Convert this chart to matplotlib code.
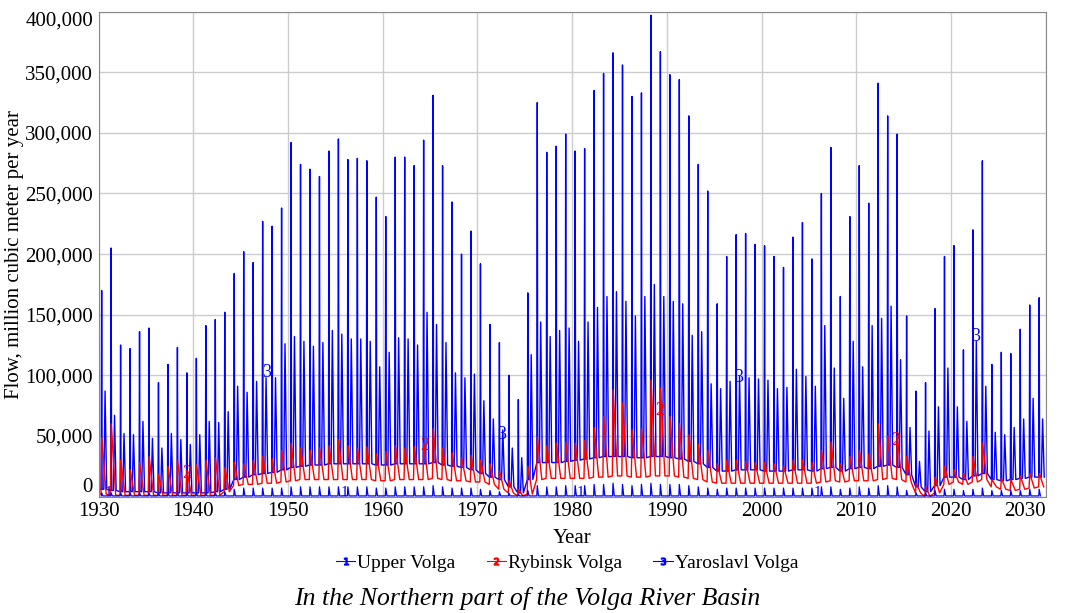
import numpy as np
import matplotlib.pyplot as plt
from matplotlib.lines import Line2D

plt.rcParams['font.family'] = ['Liberation Serif', 'DejaVu Serif']

# Annual readings (thousand million cubic meter per year)
years = np.arange(1930, 2030)

# Yaroslavl Volga: spring spike, second (autumn) peak, low-water level
yar_spike = [170, 205, 125, 122, 136, 139, 94, 109, 123, 102,
             114, 141, 146, 152, 184, 202, 193, 227, 223, 238,
             292, 274, 270, 264, 285, 295, 278, 279, 277, 247,
             231, 280, 280, 273, 294, 331, 273, 243, 200, 219,
             192, 142, 127, 100, 80, 168, 325, 284, 289, 299,
             285, 287, 335, 349, 366, 356, 330, 333, 397, 367,
             348, 344, 314, 274, 252, 159, 198, 216, 217, 208,
             207, 198, 189, 214, 226, 196, 250, 288, 165, 231,
             273, 242, 341, 314, 299, 149, 87, 94, 155, 198,
             207, 121, 220, 277, 109, 119, 118, 138, 158, 164]
yar_second = [87, 67, 52, 51, 62, 48, 40, 52, 47, 43,
              51, 62, 61, 70, 91, 86, 95, 98, 98, 126,
              132, 128, 124, 127, 137, 134, 130, 130, 128, 107,
              119, 131, 130, 125, 152, 142, 127, 102, 98, 101,
              79, 64, 55, 40, 32, 117, 144, 132, 137, 139,
              128, 144, 156, 165, 169, 161, 149, 165, 175, 165,
              161, 159, 133, 136, 93, 89, 95, 99, 98, 97,
              96, 89, 90, 105, 99, 91, 141, 106, 81, 128,
              107, 141, 147, 157, 113, 57, 29, 54, 74, 106,
              74, 62, 128, 91, 53, 51, 57, 64, 81, 64]
yar_low = [6, 5, 4, 4, 4, 4, 3, 3, 3, 3,
           3, 3, 4, 6, 14, 16, 18, 19, 20, 22,
           24, 25, 26, 26, 27, 27, 27, 27, 27, 26,
           26, 27, 27, 27, 27, 28, 26, 25, 24, 22,
           19, 16, 14, 8, 3, 14, 28, 28, 28, 29,
           30, 31, 32, 33, 33, 33, 32, 32, 33, 33,
           32, 31, 29, 27, 24, 21, 21, 22, 22, 22,
           21, 21, 21, 22, 22, 21, 23, 24, 21, 23,
           24, 23, 25, 26, 24, 18, 8, 4, 9, 16,
           16, 14, 17, 19, 14, 13, 14, 15, 16, 16]

# Rybinsk Volga: yearly peak and low level
ryb_peak = [49, 60, 30, 22, 28, 33, 18, 25, 30, 22,
            26, 30, 32, 24, 28, 27, 30, 33, 31, 38,
            44, 40, 38, 40, 42, 47, 42, 40, 41, 35,
            37, 42, 40, 41, 44, 56, 40, 36, 32, 34,
            30, 27, 21, 13, 6, 25, 49, 42, 44, 45,
            44, 46, 57, 66, 88, 77, 55, 56, 96, 89,
            66, 60, 51, 43, 38, 27, 30, 30, 29, 28,
            28, 27, 25, 30, 30, 28, 38, 45, 27, 33,
            38, 35, 60, 50, 50, 33, 11, 8, 16, 25,
            22, 19, 33, 44, 14, 15, 14, 17, 19, 19]
ryb_low = [2, 1, 1, 1, 1, 1, 1, 1, 1, 1,
           1, 1, 1, 4, 9, 10, 10, 11, 11, 12,
           13, 14, 14, 14, 14, 14, 14, 14, 14, 13,
           13, 14, 14, 14, 14, 15, 14, 13, 13, 12,
           12, 10, 6, 3, 0.5, 2, 14, 15, 15, 15,
           15, 15, 16, 16, 17, 17, 16, 16, 17, 17,
           17, 16, 15, 14, 12, 11, 11, 11, 11, 11,
           11, 11, 11, 11, 11, 11, 12, 13, 12, 13,
           13, 13, 14, 15, 14, 12, 3, 0, 3, 10,
           12, 10, 12, 14, 8, 6, 5, 6, 7, 8]

# Upper Volga: yearly peak
up_peak = [3, 3, 3, 3, 3, 3, 3, 3, 3, 3,
           3, 3, 3, 4, 6, 7, 7, 7, 7, 7,
           8, 8, 8, 8, 8, 8, 8, 8, 8, 7,
           7, 8, 8, 8, 8, 9, 8, 7, 7, 7,
           6, 5, 4, 3, 2, 5, 9, 8, 8, 9,
           9, 9, 10, 10, 11, 10, 9, 10, 11, 10,
           10, 10, 9, 8, 7, 6, 7, 7, 7, 7,
           7, 7, 7, 7, 7, 7, 8, 8, 6, 7,
           8, 7, 9, 9, 8, 5, 3, 3, 5, 6,
           6, 5, 6, 7, 5, 5, 5, 5, 6, 6]
up_low = 0.5

# initial values at 1930
yar_start = 430
ryb_start = 200

# where the series numbers sit (year, value in thousands)
lab1 = [(1931.0, 3), (1956.0, 3), (1980.9, 3), (2005.9, 3)]
lab2 = [(1939.3, 19), (1964.4, 42), (1989.3, 71), (2014.2, 46)]
lab3 = [(1947.7, 102), (1972.6, 51), (1997.6, 98), (2022.6, 132)]

x_ticks = list(range(1930, 2031, 10))
y_ticks = list(range(0, 400001, 50000))


def series(phase, cols, start=None):
    t = (years[:, None] + np.array(phase)[None, :]).ravel()
    v = np.column_stack([np.broadcast_to(np.asarray(c, float), years.shape)
                         for c in cols]).ravel()
    if start is not None:
        t = np.r_[1930.0, 1930.03, t]
        v = np.r_[start, cols[0][0], v]
    return t, v * 1000


t3, y3 = series([0.27, 0.32, 0.37, 0.55, 0.68, 0.85],
                [yar_low, yar_spike, yar_low, yar_low, yar_second, yar_low], yar_start)
t2, y2 = series([0.25, 0.33, 0.80], [ryb_low, ryb_peak, ryb_low], ryb_start)
t1, y1 = series([0.27, 0.32, 0.45], [up_low, up_peak, up_low])

fig = plt.figure(figsize=(10.72, 6.13), dpi=100)
ax = fig.add_axes([0.092, 0.19, 0.8834, 0.791])

blue, red = '#0000ff', '#ff0000'
ax.plot(t3, y3, color=blue, lw=1.0)
ax.plot(t2, y2, color=red, lw=1.0)
ax.plot(t1, y1, color=blue, lw=0.9)

for (x, v) in lab1:
    ax.text(x, v * 1000, '1', color=blue, fontsize=11, ha='center', va='center')
for (x, v) in lab2:
    ax.text(x, v * 1000, '2', color=red, fontsize=13, ha='center', va='center')
for (x, v) in lab3:
    ax.text(x, v * 1000, '3', color=blue, fontsize=13, ha='center', va='center')

ax.set_xlim(1930, 2030)
ax.set_ylim(0, 400000)
ax.set_xticks(x_ticks, [str(x) for x in x_ticks], fontfamily='Liberation Serif')
ax.set_yticks(y_ticks, [f'{v:,}' for v in y_ticks], fontfamily='Liberation Serif')
ax.grid(color='#cccccc', lw=1)
ax.set_axisbelow(True)
ax.tick_params(length=0, labelsize=15, pad=4)
for s in ax.spines.values():
    s.set_color('#888888')

# keep the end labels inside the plot area
ylabs = ax.get_yticklabels()
ylabs[0].set_va('bottom')
ylabs[-1].set_va('top')
ax.get_xticklabels()[-1].set_ha('right')

ax.set_xlabel('Year', fontsize=15, labelpad=6)
ax.set_ylabel('Flow, million cubic meter per year', fontsize=15, labelpad=1)

handles = [Line2D([], [], color=blue, lw=0.8, marker='$1$', markersize=5),
           Line2D([], [], color=red, lw=0.8, marker='$2$', markersize=5),
           Line2D([], [], color=blue, lw=0.8, marker='$3$', markersize=5)]
fig.legend(handles, ['Upper Volga', 'Rybinsk Volga', 'Yaroslavl Volga'],
           loc='center', bbox_to_anchor=(0.529, 0.081), ncol=3, frameon=False,
           fontsize=14, handlelength=1.0, handletextpad=0.1, columnspacing=1.6)

fig.text(0.492, 0.024, 'In the Northern part of the Volga River Basin',
         fontsize=18.5, style='italic', ha='center', va='center')

fig.savefig('out.png', dpi=100)
